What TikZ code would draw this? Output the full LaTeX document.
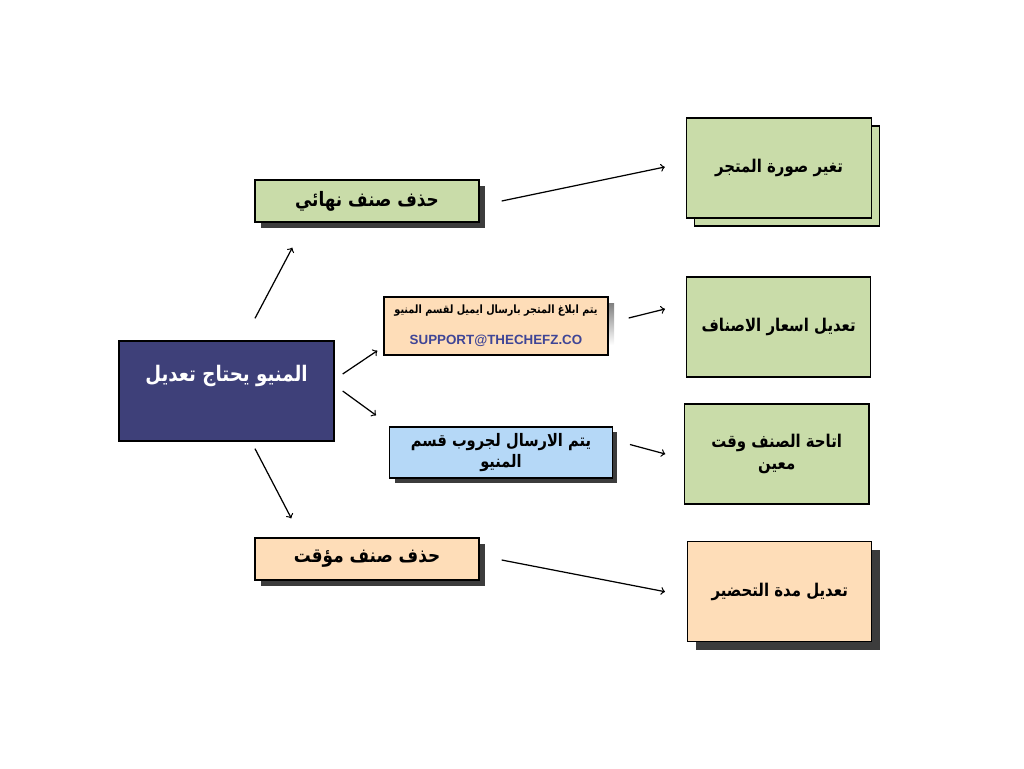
\documentclass[tikz,border=0pt]{standalone}
\usepackage{fontspec}
\usepackage{tikz}
\usetikzlibrary{arrows,shadows}
\TeXXeTstate=1
\newfontfamily\arabicfont[Script=Arabic, FakeStretch=0.85]{DejaVu Sans}
\newfontfamily\latinfont{Liberation Sans}
\definecolor{menunavy}{HTML}{3E4079}
\definecolor{leafgreen}{HTML}{C9DCA9}
\definecolor{peach}{HTML}{FEDDB8}
\definecolor{skyblue}{HTML}{B5D8F7}
\definecolor{shade}{HTML}{3C3C3C}
\definecolor{maillink}{HTML}{3F4596}

\begin{document}
\begin{tikzpicture}[x = .02cm, y = -.02cm,
		card/.style = {draw, line width = .8pt, inner sep = 0pt, align = center, font = \arabicfont\bfseries\fontsize{10}{13}\selectfont},
		dark/.style = {drop shadow = {shadow xshift = #1, shadow yshift = -#1, fill = shade, opacity = 1}},
		stack/.style = {copy shadow = {shadow xshift = .16cm, shadow yshift = -.16cm, fill = leafgreen, draw = black, line width = .8pt}},
		arr/.style = {->, line width = .7pt}]
				\useasboundingbox (0,0) rectangle (1024,768);
				% left side
				\node [card, fill = menunavy, text = white, minimum width = 4.3cm, minimum height = 2cm, text height = .3cm, text depth = .7cm, font = \arabicfont\bfseries\fontsize{12.2}{17}\selectfont] (menu) at (226.5,391) {\beginR المنيو يحتاج تعديل\endR};
				\node [card, dark = .12cm, fill = leafgreen, minimum width = 4.48cm, minimum height = .84cm, font = \arabicfont\bfseries\fontsize{11.3}{15}\selectfont] (final) at (367,201) {\beginR حذف صنف نهائي\endR};
				\node [card, dark = .12cm, fill = peach, minimum width = 4.48cm, minimum height = .84cm, font = \arabicfont\bfseries\fontsize{11.3}{15}\selectfont] (temp) at (367,559) {\beginR حذف صنف مؤقت\endR};
				% middle
				\fill [shade] (390,303) rectangle (614,345);
				\node [card, fill = peach, minimum width = 4.48cm, minimum height = 1.16cm] (mail) at (496,326) {{\fontsize{6.5}{8}\selectfont\beginR يتم ابلاغ المتجر بارسال ايميل لقسم المنيو\endR}\\[.16cm]{\latinfont\bfseries\fontsize{7.6}{9}\selectfont\color{maillink}SUPPORT@THECHEFZ.CO}};
				\node [card, dark = .1cm, fill = skyblue, minimum width = 4.45cm, minimum height = 1.02cm, font = \arabicfont\bfseries\fontsize{9.8}{11.5}\selectfont] (group) at (501,452.5) {\beginR يتم الارسال لجروب قسم\endR\\\beginR المنيو\endR};
				% right side
				\node [card, stack, fill = leafgreen, minimum width = 3.7cm, minimum height = 2cm] (photo) at (779,168) {\beginR تغير صورة المتجر\endR};
				\node [card, fill = leafgreen, minimum width = 3.68cm, minimum height = 2cm] (prices) at (778.7,327) {\beginR تعديل اسعار الاصناف\endR};
				\node [card, fill = leafgreen, minimum width = 3.69cm, minimum height = 2cm] (avail) at (776.7,454) {\beginR اتاحة الصنف وقت\endR\\\beginR معين\endR};
				\node [card, dark = .16cm, fill = peach, minimum width = 3.68cm, minimum height = 2cm] (prep) at (779.7,591.7) {\beginR تعديل مدة التحضير\endR};
				% arrows
				\draw [arr] ([shift = {(28.5,-22)}]menu.north) -- ([shift = {(38,25)}]final.south west);
				\draw [arr] ([shift = {(8,-17)}]menu.east) -- ([shift = {(-6,-5)}]mail.south west);
				\draw [arr] ([shift = {(8,0)}]menu.east) -- ([shift = {(-13,-11)}]group.north west);
				\draw [arr] ([shift = {(28.5,7)}]menu.south) -- ([shift = {(37,-19)}]temp.north west);
				\draw [arr] ([shift = {(22,0)}]final.east) -- ([shift = {(-21,-1)}]photo.west);
				\draw [arr] ([shift = {(20,-8)}]mail.east) -- ([shift = {(-21,-18)}]prices.west);
				\draw [arr] ([shift = {(17,-8)}]group.east) -- ([shift = {(-18.5,0)}]avail.west);
				\draw [arr] ([shift = {(22,1)}]temp.east) -- ([shift = {(-22,0)}]prep.west);
		\end{tikzpicture}
\end{document}
